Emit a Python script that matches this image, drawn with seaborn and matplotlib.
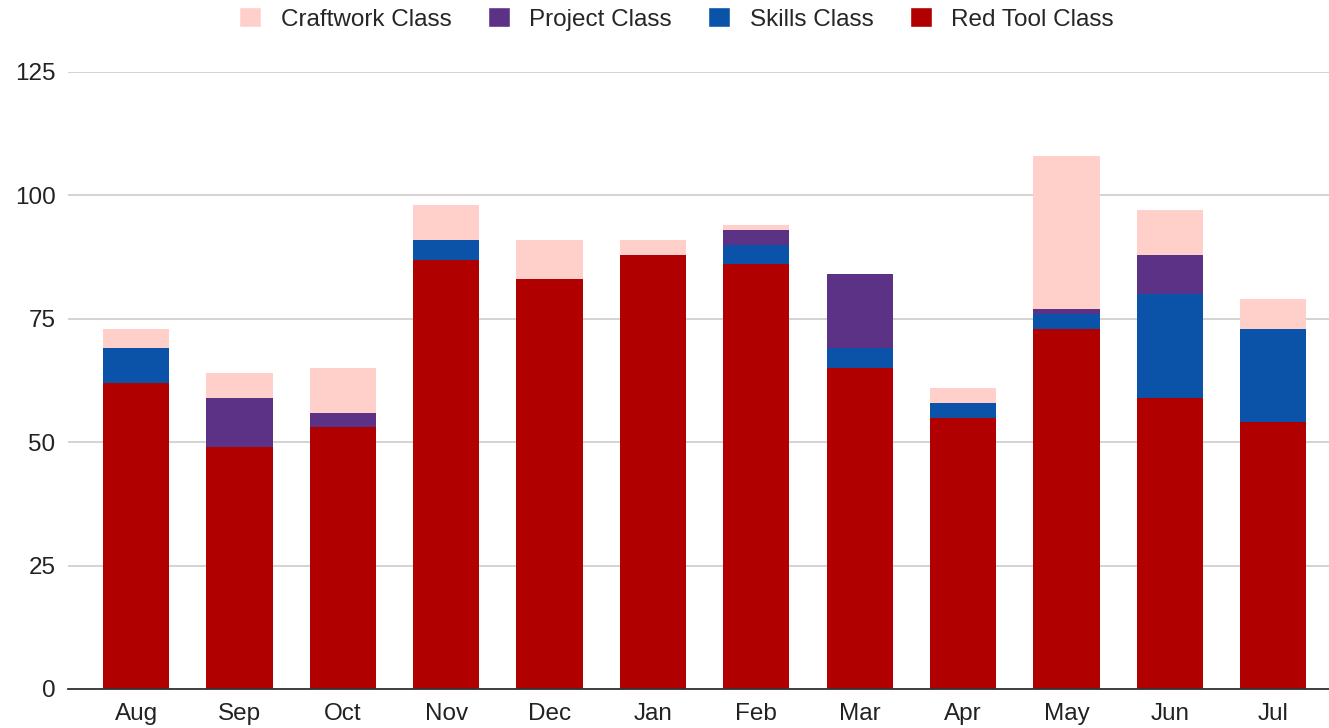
import matplotlib
matplotlib.use("Agg")
import matplotlib.pyplot as plt
import numpy as np
import seaborn as sns
from matplotlib.patches import Patch

months = ["Aug", "Sep", "Oct", "Nov", "Dec", "Jan", "Feb", "Mar", "Apr", "May", "Jun", "Jul"]
red_tool = [62, 49, 53, 87, 83, 88, 86, 65, 55, 73, 59, 54]
skills = [7, 0, 0, 4, 0, 0, 4, 4, 3, 3, 21, 19]
project = [0, 10, 3, 0, 0, 0, 3, 15, 0, 1, 8, 0]
craftwork = [4, 5, 9, 7, 8, 3, 1, 0, 3, 31, 9, 6]

series = [
    ("Red Tool Class", red_tool, "#b00000"),
    ("Skills Class", skills, "#0b53a8"),
    ("Project Class", project, "#5b3286"),
    ("Craftwork Class", craftwork, "#ffcfc9"),
]

sns.set_style("white")
plt.rcParams["font.family"] = ["Liberation Sans", "DejaVu Sans"]

fig = plt.figure(figsize=(13.29, 7.28), dpi=100)
ax = fig.add_axes([0.0512, 0.0536, 0.9488, 0.8475])

bottom = np.zeros(len(months))
for name, vals, color in series:
    sns.barplot(x=months, y=vals, bottom=bottom, color=color, width=0.64,
                saturation=1, linewidth=0, ax=ax, zorder=3)
    bottom = bottom + np.array(vals)

ax.set_ylim(0, 125)
ax.set_xlim(-0.658, 11.54)
ax.set_yticks([0, 25, 50, 75, 100, 125])
ax.yaxis.grid(True, color="#cccccc", linewidth=1.2, zorder=0)
ax.set_axisbelow(True)
for s in ["top", "right", "left"]:
    ax.spines[s].set_visible(False)
ax.spines["bottom"].set_color("#333333")
ax.spines["bottom"].set_linewidth(1.3)
ax.spines["bottom"].set_zorder(4)
ax.tick_params(axis="both", length=0, labelsize=17.5, colors="#222222")
ax.tick_params(axis="y", pad=9)
ax.tick_params(axis="x", pad=10)
ax.set_xlabel("")
ax.set_ylabel("")

handles = [Patch(facecolor=c, label=n) for n, _, c in series[::-1]]
fig.legend(handles=handles, loc="upper center", bbox_to_anchor=(0.509, 1.02), ncol=4,
           frameon=False, fontsize=17.5, handlelength=0.9, handleheight=0.9,
           columnspacing=1.5, handletextpad=0.8)

plt.savefig("out.png", dpi=100)
